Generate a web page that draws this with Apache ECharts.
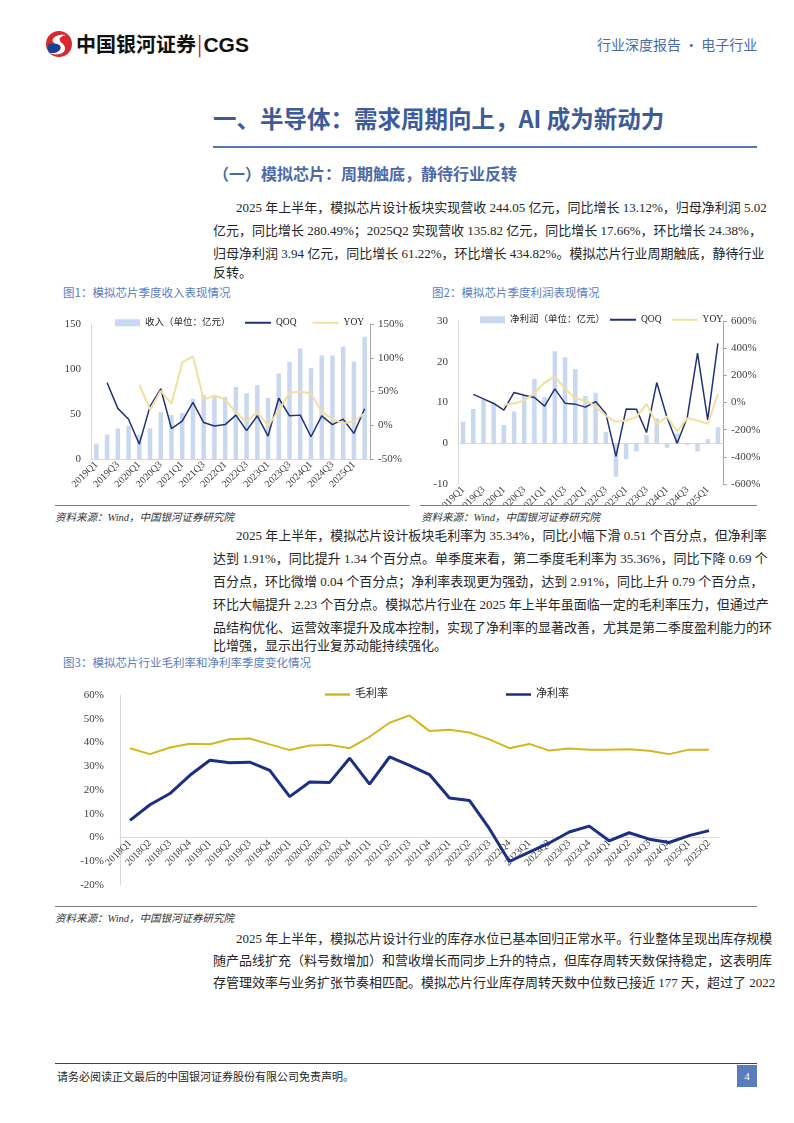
<!DOCTYPE html>
<html><head><meta charset="utf-8">
<script src="https://cdn.jsdelivr.net/npm/echarts@6/dist/echarts.min.js"></script>
<style>
html,body{margin:0;padding:0;background:#fff;}
body{width:794px;height:1123px;position:relative;overflow:hidden;font-family:'Liberation Serif','Noto Sans CJK SC',serif;color:#262626;}
.abs{position:absolute;}
.line{position:absolute;left:213px;width:544px;font-size:13px;white-space:nowrap;text-align:justify;text-align-last:justify;height:22px;line-height:22px;}
.line.ind{left:236px;width:521px;}
.line.last{text-align-last:left;}
.cap{position:absolute;font-size:11.5px;color:#5a7dbf;font-family:'Noto Sans CJK SC',sans-serif;}
.src{position:absolute;font-size:10.5px;font-style:italic;color:#333;}
.chart{position:absolute;}
</style></head>
<body>
<!-- header -->
<svg class="abs" style="left:44px;top:30px" width="30" height="28" viewBox="0 0 30 28">
  <ellipse cx="15" cy="14" rx="13" ry="13" fill="#d7282f"/>
  <path d="M22 5 C10 3 4 12 13 14 C20 16 16 24 6 23 C14 27 26 22 19 14 C14 10 14 7 22 5 Z" fill="#fff"/>
  <path d="M13 14 C20 16 16 24 6 23 C3 20 3 17 5 14 Z" fill="#1d3f94"/>
</svg>
<div class="abs" style="left:76px;top:30px;font-family:'Noto Sans CJK SC',sans-serif;font-weight:bold;font-size:20px;line-height:28px;color:#111;">中国银河证券<span style="color:#c8161d;font-weight:normal;margin:0 1px">|</span><span style="font-family:'Liberation Sans',sans-serif;font-weight:bold;font-size:21px">CGS</span></div>
<div class="abs" style="left:597px;top:34px;font-size:14px;line-height:20px;color:#4a6aa8;font-family:'Noto Sans CJK SC',sans-serif;">行业深度报告 · 电子行业</div>

<div class="abs" style="left:213px;top:103px;font-size:23.5px;line-height:30px;font-weight:bold;color:#3d5b98;font-family:'Noto Sans CJK SC',sans-serif;">一、半导体：需求周期向上，AI 成为新动力</div>
<div class="abs" style="left:213px;top:146px;width:544px;height:2px;background:#5577b8"></div>
<div class="abs" style="left:213px;top:162px;font-size:16px;line-height:22px;font-weight:bold;color:#4d6aa8;font-family:'Noto Sans CJK SC',sans-serif;">（一）模拟芯片：周期触底，静待行业反转</div>

<div class="line ind" style="top:197px">2025 年上半年，模拟芯片设计板块实现营收 244.05 亿元，同比增长 13.12%，归母净利润 5.02</div>
<div class="line" style="top:220px">亿元，同比增长 280.49%；2025Q2 实现营收 135.82 亿元，同比增长 17.66%，环比增长 24.38%，</div>
<div class="line" style="top:243px">归母净利润 3.94 亿元，同比增长 61.22%，环比增长 434.82%。模拟芯片行业周期触底，静待行业</div>
<div class="line last" style="top:262px">反转。</div>

<div class="cap" style="left:63px;top:284px">图1：模拟芯片季度收入表现情况</div>
<div class="cap" style="left:432px;top:284px">图2：模拟芯片季度利润表现情况</div>

<div id="c1" class="chart" style="left:55px;top:305px;width:360px;height:200px"></div>
<div id="c2" class="chart" style="left:420px;top:305px;width:340px;height:200px"></div>
<div class="abs" style="left:55px;top:505px;width:355px;height:1px;background:#7f7f7f"></div>
<div class="abs" style="left:420px;top:505px;width:337px;height:1px;background:#7f7f7f"></div>
<div class="src" style="left:55px;top:509px">资料来源：Wind，中国银河证券研究院</div>
<div class="src" style="left:421px;top:509px">资料来源：Wind，中国银河证券研究院</div>

<div class="line ind" style="top:525px">2025 年上半年，模拟芯片设计板块毛利率为 35.34%，同比小幅下滑 0.51 个百分点，但净利率</div>
<div class="line" style="top:548px">达到 1.91%，同比提升 1.34 个百分点。单季度来看，第二季度毛利率为 35.36%，同比下降 0.69 个</div>
<div class="line" style="top:571px">百分点，环比微增 0.04 个百分点；净利率表现更为强劲，达到 2.91%，同比上升 0.79 个百分点，</div>
<div class="line" style="top:594px">环比大幅提升 2.23 个百分点。模拟芯片行业在 2025 年上半年虽面临一定的毛利率压力，但通过产</div>
<div class="line" style="top:617px">品结构优化、运营效率提升及成本控制，实现了净利率的显著改善，尤其是第二季度盈利能力的环</div>
<div class="line last" style="top:635px">比增强，显示出行业复苏动能持续强化。</div>

<div class="cap" style="left:63px;top:654px">图3：模拟芯片行业毛利率和净利率季度变化情况</div>
<div id="c3" class="chart" style="left:55px;top:680px;width:705px;height:225px"></div>
<div class="abs" style="left:55px;top:906px;width:702px;height:1px;background:#7f7f7f"></div>
<div class="src" style="left:55px;top:910px">资料来源：Wind，中国银河证券研究院</div>

<div class="line ind" style="top:928px">2025 年上半年，模拟芯片设计行业的库存水位已基本回归正常水平。行业整体呈现出库存规模</div>
<div class="line" style="top:950px">随产品线扩充（料号数增加）和营收增长而同步上升的特点，但库存周转天数保持稳定，这表明库</div>
<div class="line" style="top:972px">存管理效率与业务扩张节奏相匹配。模拟芯片行业库存周转天数中位数已接近 177 天，超过了 2022</div>

<div class="abs" style="left:55px;top:1063px;width:702px;height:1px;background:#404040"></div>
<div class="abs" style="left:57px;top:1068px;font-size:11px;line-height:16px;color:#262626;font-family:'Noto Sans CJK SC',sans-serif;">请务必阅读正文最后的中国银河证券股份有限公司免责声明。</div>
<div class="abs" style="left:737px;top:1065px;width:20px;height:22px;background:#5b7bbf;color:#fff;font-size:11px;line-height:22px;text-align:center;">4</div>

<script>
// ---- Figure 1 & 2 data ----
const quarters1 = ['2019Q1','2019Q2','2019Q3','2019Q4','2020Q1','2020Q2','2020Q3','2020Q4','2021Q1','2021Q2','2021Q3','2021Q4','2022Q1','2022Q2','2022Q3','2022Q4','2023Q1','2023Q2','2023Q3','2023Q4','2024Q1','2024Q2','2024Q3','2024Q4','2025Q1','2025Q2'];
const revenue = [17, 27, 34, 37, 27, 34, 52, 49, 51, 67, 71, 70, 69, 80, 73, 82, 68, 95, 108, 123, 101, 115, 115, 125, 108.2, 135.8];
const revenueQoq = [null, 63, 25, 9, -28, 28, 54, -5, 6, 34, 4, -1, 1, 15, -8, 14, -16, 40, 14, 15, -17, 14, 1, 9, -12, 24.4];
const revenueYoy = [null, null, null, null, 60, 23, 51, 32, 93, 102, 38, 44, 38, 19, 5, 20, -1, 22, 48, 50, 47, 20, 9, 3, 6, 17.7];
const profit = [5.3, 8.4, 10.8, 10.0, 4.5, 7.8, 11.8, 15.8, 11.3, 22.6, 21.1, 18.2, 11.6, 12.4, 2.8, -8.2, -3.9, -2.0, 2.0, 6.1, -1.1, 2.4, -0.4, -2.0, 1.0, 3.94];
const profitQoq = [null, 60, 27, -7, -56, 74, 54, 37, -27, 100, -5, -12, -34, 7, -80, -397, -47, -49, -221, 147, -108, -300, -108, 363, -128, 434.8];
const profitYoy = [null, null, null, null, -17, -7, 15, 69, 147, 191, 103, 32, 15, -29, -98, -142, -132, -108, -10, -160, -103, -213, -115, -132, -157, 61.2];
// ---- Figure 3 data ----
const quarters3 = ['2018Q1','2018Q2','2018Q3','2018Q4','2019Q1','2019Q2','2019Q3','2019Q4','2020Q1','2020Q2','2020Q3','2020Q4','2021Q1','2021Q2','2021Q3','2021Q4','2022Q1','2022Q2','2022Q3','2022Q4','2023Q1','2023Q2','2023Q3','2023Q4','2024Q1','2024Q2','2024Q3','2024Q4','2025Q1','2025Q2'];
const grossMargin = [37.6, 35.1, 37.9, 39.5, 39.3, 41.4, 41.7, 39.2, 36.8, 38.7, 39.0, 37.6, 42.4, 48.3, 51.4, 44.8, 45.4, 44.2, 41.3, 37.6, 39.4, 36.6, 37.5, 36.9, 36.9, 37.2, 36.5, 35.1, 37.0, 37.0];
const netMargin = [7.2, 13.8, 18.5, 26.2, 32.5, 31.5, 31.7, 28.3, 17.2, 23.4, 23.2, 33.4, 22.5, 33.9, 30.4, 26.5, 16.6, 15.6, 3.7, -10.1, -6.2, -2.3, 2.3, 4.8, -1.4, 2.0, -0.7, -2.1, 0.8, 2.9];

const FF = "'Liberation Serif','Noto Sans CJK SC',serif";
const lblColor = '#404040';
const barColor = '#c9d8ef';
const navy = '#1f3278';
const paleGold = '#f4df9f';
const legendText = {fontSize:9.5, color:'#262626', fontFamily:FF};

function dualOption(cfg){
  return {
    animation:false,
    textStyle:{fontFamily:FF},
    legend:[
      {left:cfg.barLegendLeft, top:cfg.legendTop, itemWidth:25, itemHeight:7, itemGap:4, textStyle:legendText,
       data:[{name:cfg.barName, icon:'rect'}]},
      {left:cfg.lineLegendLeft, top:cfg.legendTop, itemGap:cfg.lineGap, itemWidth:26, itemHeight:2, textStyle:legendText,
       data:[{name:'QOQ', icon:'rect'}, {name:'YOY', icon:'rect'}]}
    ],
    grid:Object.assign({outerBoundsMode:'none', containLabel:false}, cfg.grid),
    xAxis:{
      type:'category', data:quarters1, boundaryGap:true,
      axisTick:{show:false},
      axisLine:{show:true, onZero:true, onZeroAxisIndex:0, lineStyle:{color:'#d9d9d9'}},
      axisLabel:{rotate:45, interval:1, fontSize:10, color:lblColor, fontFamily:FF, margin:4}
    },
    yAxis:[
      {type:'value', min:cfg.lMin, max:cfg.lMax, interval:cfg.lInt, splitLine:{show:false},
       axisLine:{show:true, lineStyle:{color:'#d9d9d9'}}, axisTick:{show:false},
       axisLabel:{fontSize:11, color:lblColor, fontFamily:FF, margin:10}},
      {type:'value', min:cfg.rMin, max:cfg.rMax, interval:cfg.rInt, splitLine:{show:false},
       axisLine:{show:true, lineStyle:{color:'#a6a6a6'}}, axisTick:{show:true, length:4, lineStyle:{color:'#a6a6a6'}},
       axisLabel:{fontSize:11, color:lblColor, fontFamily:FF, margin:8, formatter:'{value}%'}}
    ],
    series:[
      {name:cfg.barName, type:'bar', yAxisIndex:0, data:cfg.bar, barWidth:4.5, itemStyle:{color:barColor}},
      {name:'QOQ', type:'line', yAxisIndex:1, data:cfg.qoq, symbol:'none', lineStyle:{color:navy, width:1.5}, itemStyle:{color:navy}},
      {name:'YOY', type:'line', yAxisIndex:1, data:cfg.yoy, symbol:'none', lineStyle:{color:paleGold, width:2}, itemStyle:{color:paleGold}}
    ]
  };
}

const c1 = echarts.init(document.getElementById('c1'), null, {renderer:'canvas'});
c1.setOption(dualOption({
  barName:'收入（单位：亿元）', bar:revenue, qoq:revenueQoq, yoy:revenueYoy,
  barLegendLeft:55, lineLegendLeft:185, lineGap:16, legendTop:8,
  grid:{left:36, right:45, top:19, bottom:46},
  lMin:0, lMax:150, lInt:50, rMin:-50, rMax:150, rInt:50
}));

const c2 = echarts.init(document.getElementById('c2'), null, {renderer:'canvas'});
c2.setOption(dualOption({
  barName:'净利润（单位：亿元）', bar:profit, qoq:profitQoq, yoy:profitYoy,
  barLegendLeft:55, lineLegendLeft:185, lineGap:10, legendTop:5,
  grid:{left:38, right:37, top:16, bottom:21},
  lMin:-10, lMax:30, lInt:10, rMin:-600, rMax:600, rInt:200
}));

// Figure 3: value-axis range and the distance of its zero line above the grid bottom
const c3Min = -20, c3Max = 60;
const c3Grid = {top:15, bottom:20};
const c3Height = 225;
const c3ZeroOffset = (c3Height - c3Grid.top - c3Grid.bottom) * (0 - c3Min) / (c3Max - c3Min);

const c3 = echarts.init(document.getElementById('c3'), null, {renderer:'canvas'});
c3.setOption({
  animation:false,
  textStyle:{fontFamily:FF},
  legend:{
    left:265, top:4, itemGap:118, itemWidth:25, itemHeight:2.5, icon:'rect',
    textStyle:{fontSize:11, color:'#262626', fontFamily:FF},
    data:['毛利率','净利率']
  },
  grid:{outerBoundsMode:'none', containLabel:false, left:65, right:41, top:c3Grid.top, bottom:c3Grid.bottom},
  xAxis:{
    type:'category', data:quarters3, boundaryGap:true, position:'bottom', offset:-c3ZeroOffset,
    axisTick:{show:false},
    axisLine:{show:true, onZero:false, lineStyle:{color:'#d9d9d9'}},
    axisLabel:{rotate:45, interval:0, fontSize:10, color:lblColor, fontFamily:FF, margin:4}
  },
  yAxis:{
    type:'value', min:c3Min, max:c3Max, interval:10, splitLine:{show:false},
    axisLine:{show:true, lineStyle:{color:'#d9d9d9'}}, axisTick:{show:false},
    axisLabel:{fontSize:11, color:lblColor, fontFamily:FF, margin:16, formatter:'{value}%'}
  },
  series:[
    {name:'毛利率', type:'line', data:grossMargin, symbol:'none', lineStyle:{color:'#d4b61f', width:2}, itemStyle:{color:'#d4b61f'}},
    {name:'净利率', type:'line', data:netMargin, symbol:'none', lineStyle:{color:'#1b2f86', width:3}, itemStyle:{color:'#1b2f86'}}
  ]
});
</script>
</body></html>
